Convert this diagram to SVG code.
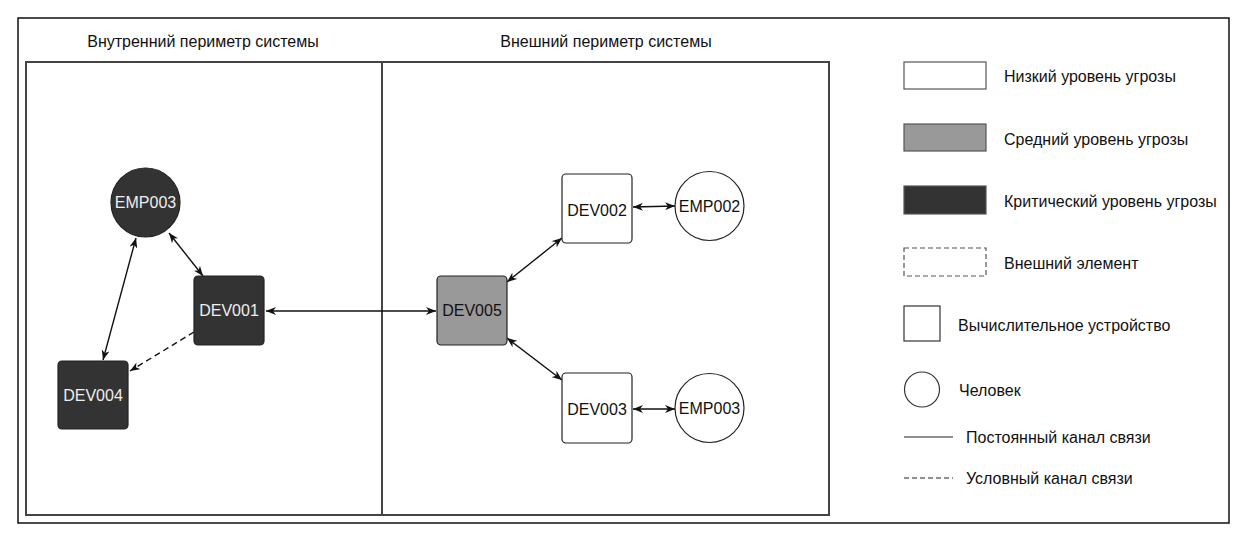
<svg xmlns="http://www.w3.org/2000/svg" width="1248" height="542" viewBox="0 0 1248 542">
<style>
text{font-family:"Liberation Sans",Arial,sans-serif;fill:#111}
.t{font-size:16px}
.n{font-size:16px;text-anchor:middle}
.w{fill:#eeeeee}
.dev{stroke:#222;stroke-width:1.2}
.crit{fill:#333333}
.mid{fill:#999999}
.low{fill:#ffffff}
.c{stroke:#111;stroke-width:1.4;fill:none}
.dash{stroke-dasharray:6 4}
</style>
<defs>
<marker id="arr" viewBox="0 0 10 8" refX="10" refY="4" markerWidth="10" markerHeight="8" markerUnits="userSpaceOnUse" orient="auto-start-reverse">
<path d="M0,0 L10,4 L0,8 L3,4 z" fill="#111"/>
</marker>
</defs>
<rect x="0" y="0" width="1248" height="542" fill="#fff"/>
<g id="frame">
<rect x="18" y="18" width="1211" height="505" fill="none" stroke="#111" stroke-width="1.5"/>
<rect x="26" y="62" width="803" height="453" fill="none" stroke="#444" stroke-width="2"/>
<line x1="382" y1="62" x2="382" y2="515" stroke="#444" stroke-width="2"/>
<text class="t" x="203" y="47" text-anchor="middle">Внутренний периметр системы</text>
<text class="t" x="606" y="47" text-anchor="middle">Внешний периметр системы</text>
</g>
<g id="connectors">
<line class="c" x1="266" y1="311" x2="436" y2="311" marker-start="url(#arr)" marker-end="url(#arr)"/>
<line class="c" x1="169" y1="233" x2="203" y2="276" marker-start="url(#arr)" marker-end="url(#arr)"/>
<line class="c" x1="136" y1="238" x2="103" y2="360" marker-start="url(#arr)" marker-end="url(#arr)"/>
<line class="c dash" x1="194" y1="332" x2="130" y2="371" marker-end="url(#arr)"/>
<line class="c" x1="507" y1="282" x2="562" y2="238" marker-start="url(#arr)" marker-end="url(#arr)"/>
<line class="c" x1="507" y1="338" x2="562" y2="380" marker-start="url(#arr)" marker-end="url(#arr)"/>
<line class="c" x1="633" y1="207" x2="675" y2="206" marker-start="url(#arr)" marker-end="url(#arr)"/>
<line class="c" x1="633" y1="409" x2="675" y2="409" marker-start="url(#arr)" marker-end="url(#arr)"/>
</g>
<g id="EMP003a">
<circle class="dev crit" cx="145.5" cy="202.5" r="34.5"/>
<text class="n w" x="145.5" y="208">EMP003</text>
</g>
<g id="DEV001">
<rect class="dev crit" x="194" y="276" width="70" height="69" rx="4"/>
<text class="n w" x="229" y="316">DEV001</text>
</g>
<g id="DEV004">
<rect class="dev crit" x="58" y="361" width="70" height="68" rx="4"/>
<text class="n w" x="93" y="401">DEV004</text>
</g>
<g id="DEV005">
<rect class="dev mid" x="437" y="276" width="70" height="69" rx="4"/>
<text class="n" x="472" y="316">DEV005</text>
</g>
<g id="DEV002">
<rect class="dev low" x="562" y="174" width="70" height="69" rx="4"/>
<text class="n" x="597" y="216">DEV002</text>
</g>
<g id="EMP002">
<circle class="dev low" cx="709.5" cy="206" r="34.5"/>
<text class="n" x="709.5" y="212">EMP002</text>
</g>
<g id="DEV003">
<rect class="dev low" x="562" y="373" width="70" height="70" rx="4"/>
<text class="n" x="597" y="415">DEV003</text>
</g>
<g id="EMP003b">
<circle class="dev low" cx="709.5" cy="408" r="34.5"/>
<text class="n" x="709.5" y="414">EMP003</text>
</g>
<g id="legend">
<rect x="904" y="62" width="82" height="27" fill="#fff" stroke="#555" stroke-width="1.2"/>
<text class="t" x="1004" y="82">Низкий уровень угрозы</text>
<rect x="904" y="124" width="82" height="27" fill="#999" stroke="#555" stroke-width="1.2"/>
<text class="t" x="1004" y="145">Средний уровень угрозы</text>
<rect x="904" y="186" width="82" height="28" fill="#333" stroke="#555" stroke-width="1.2"/>
<text class="t" x="1004" y="207">Критический уровень угрозы</text>
<rect x="904" y="248" width="82" height="28" fill="#fff" stroke="#555" stroke-width="1.2" stroke-dasharray="5 3"/>
<text class="t" x="1004" y="269">Внешний элемент</text>
<rect x="904" y="306" width="36" height="35" fill="#fff" stroke="#333" stroke-width="1.2"/>
<text class="t" x="958" y="331">Вычислительное устройство</text>
<circle cx="922" cy="389.5" r="17.5" fill="#fff" stroke="#333" stroke-width="1.2"/>
<text class="t" x="959" y="396">Человек</text>
<line x1="904" y1="437" x2="953" y2="437" stroke="#222" stroke-width="1.2"/>
<text class="t" x="966" y="443">Постоянный канал связи</text>
<line x1="904" y1="478" x2="953" y2="478" stroke="#222" stroke-width="1.2" stroke-dasharray="5 3"/>
<text class="t" x="966" y="484">Условный канал связи</text>
</g>
</svg>
